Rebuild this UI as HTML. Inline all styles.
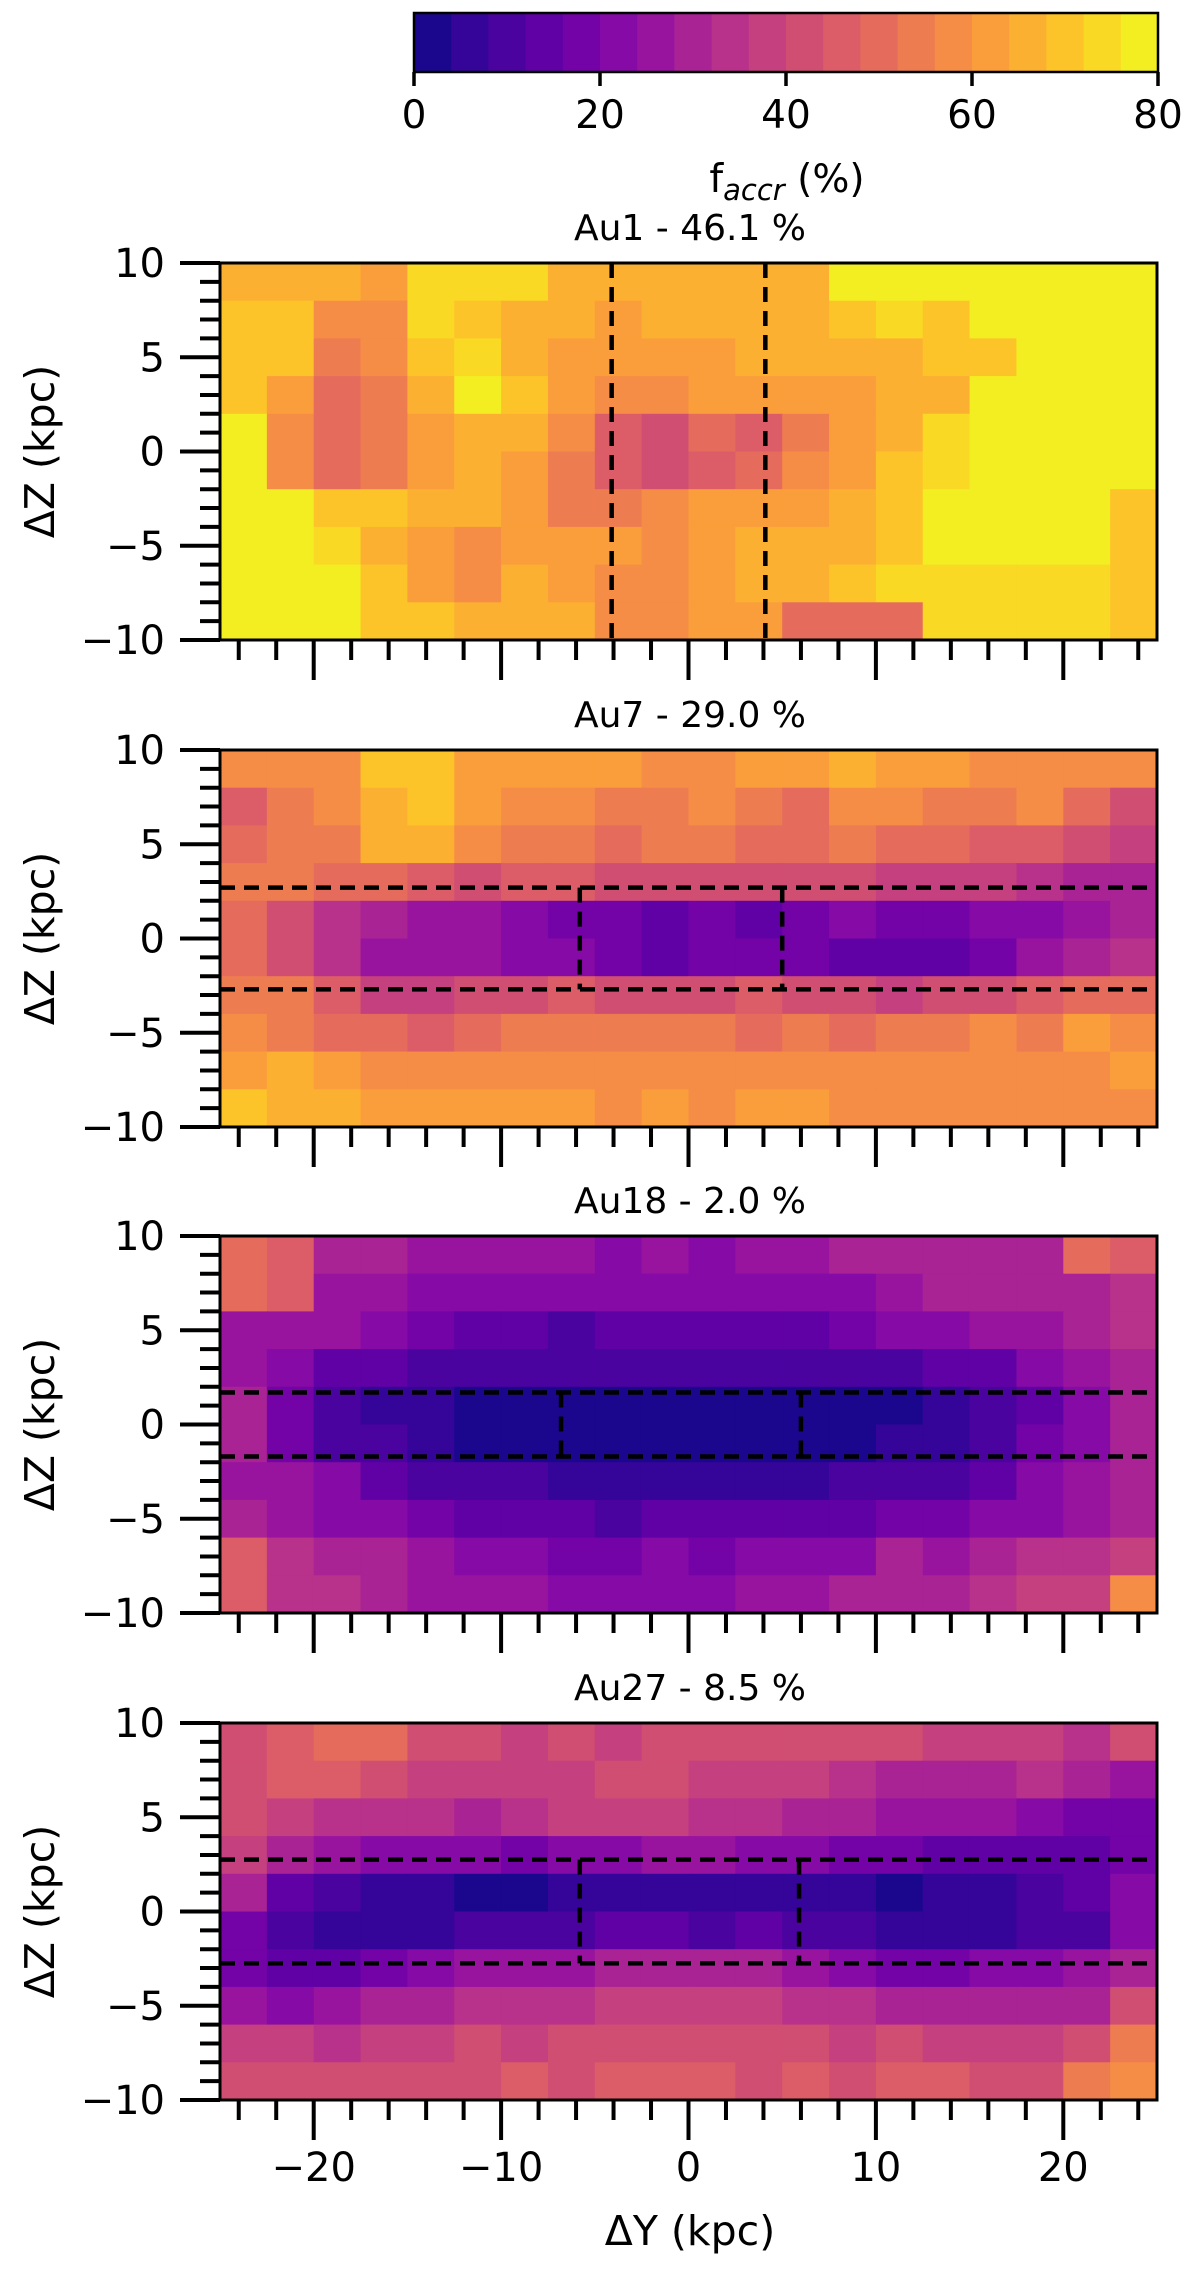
<!DOCTYPE html>
<html><head><meta charset="utf-8"><style>
html,body{margin:0;padding:0;background:#fff;width:1200px;height:2284px;overflow:hidden}
svg text{font-family:"DejaVu Sans","Liberation Sans",sans-serif;fill:#000}
</style></head><body>
<svg id="fig" width="1200" height="2284" viewBox="0 0 1200 2284" xmlns="http://www.w3.org/2000/svg"></svg>
<script>
// ---- data (accreted fraction %, 20 cols x 10 rows, cols ΔY -25..25 step 2.5, rows ΔZ 10..-10 step 2) ----
const panelNames = ["Au1", "Au7", "Au18", "Au27"];
const panelTotals = ["46.1", "29.0", "2.0", "8.5"];
const cbTicks = [0, 20, 40, 60, 80];
const yTicks = [10, 5, 0, -5, -10];
const xTicks = [-20, -10, 0, 10, 20];
const au1 = [
[66,66,64,62,72,72,72,64,64,64,64,64,66,78,78,78,78,78,78,78],
[68,68,58,56,72,70,64,64,60,64,64,66,64,70,74,70,78,78,78,78],
[68,68,54,56,70,72,66,62,60,62,62,66,64,66,66,70,70,78,78,78],
[68,62,48,54,66,76,68,62,56,56,60,62,60,62,64,66,78,78,78,78],
[78,58,48,52,60,66,64,58,44,40,50,44,52,60,66,72,78,78,78,78],
[78,58,50,54,62,64,62,54,44,42,46,48,56,62,68,74,78,78,78,78],
[78,78,70,68,64,64,60,54,54,56,60,60,62,66,70,78,78,78,78,70],
[78,78,74,64,60,56,62,60,62,58,60,64,66,66,70,78,78,78,78,70],
[78,78,78,70,62,56,64,62,58,58,62,64,66,68,72,72,74,74,72,70],
[78,78,78,70,70,66,66,64,58,58,60,62,50,50,50,72,72,72,72,70]];
const au7 = [
[58,58,58,68,68,62,62,62,60,58,58,60,62,66,62,60,58,58,58,56],
[44,52,56,66,68,62,56,56,52,52,56,52,50,56,56,52,52,56,48,42],
[50,52,54,64,64,56,52,52,50,52,52,50,50,52,50,48,44,46,42,38],
[52,54,50,48,46,42,44,46,42,40,42,42,42,40,38,38,36,32,28,28],
[50,40,32,28,26,24,22,18,16,14,16,14,18,20,16,18,22,22,24,28],
[50,42,32,26,26,26,22,20,16,14,16,16,16,14,12,14,18,24,28,32],
[54,52,44,38,38,40,42,44,42,42,42,44,42,42,38,40,42,44,48,50],
[56,54,50,48,44,50,52,54,52,52,52,50,52,50,52,54,56,52,60,58],
[60,64,62,56,58,58,56,58,56,56,58,56,58,56,56,56,56,56,58,60],
[70,66,64,62,60,62,60,60,58,60,58,60,62,58,58,58,58,56,58,58]];
const au18 = [
[50,46,28,28,26,26,24,24,22,24,22,24,26,28,30,30,30,30,48,46],
[48,46,26,26,22,22,20,20,20,20,20,20,20,22,26,28,28,30,30,32],
[26,24,24,22,18,14,12,10,12,14,14,12,12,16,20,22,24,26,30,32],
[26,22,14,12,10,10,8,8,8,8,8,8,8,10,10,12,14,20,26,30],
[28,16,10,6,4,2,2,2,2,2,2,2,2,2,2,4,8,14,20,28],
[28,18,10,8,4,2,2,2,2,2,2,2,2,2,4,6,10,16,22,28],
[26,24,20,14,10,8,8,6,6,6,6,6,6,8,8,10,14,20,26,28],
[30,26,22,20,18,14,14,12,10,12,14,12,14,14,16,18,20,22,24,28],
[46,32,30,28,24,22,20,18,18,20,18,20,22,22,28,26,28,32,34,36],
[46,32,34,30,26,24,24,20,22,22,22,24,26,28,28,30,34,36,38,56]];
const au27 = [
[42,44,48,48,42,40,38,40,38,42,40,40,42,42,40,38,38,36,34,42],
[40,44,44,40,36,38,38,38,40,40,38,36,38,34,30,30,30,32,28,24],
[40,36,32,34,32,30,32,36,36,36,34,32,30,28,26,26,24,20,18,18],
[36,28,24,20,20,20,18,20,22,24,24,22,20,16,16,14,14,12,14,18],
[30,14,10,6,4,2,2,4,6,4,4,6,4,4,2,4,6,10,14,20],
[18,10,6,6,6,8,8,10,12,12,10,12,10,8,6,6,6,8,10,22],
[16,14,12,16,20,24,26,26,28,30,30,28,26,22,18,16,20,22,24,30],
[24,20,26,28,30,34,32,34,36,38,36,36,34,34,28,28,30,30,30,40],
[36,36,32,36,38,40,38,40,40,42,40,40,40,38,40,36,36,38,40,52],
[40,42,40,40,42,42,44,42,44,46,44,42,44,42,44,44,42,42,52,56]];
const panelGrids = [au1, au7, au18, au27];
// bar region boundaries (kpc): horizontal |ΔZ| limit (null = none), vertical ΔY lines
const boxZ = [null, 2.7, 1.7, 2.75];
const boxYLeft = [-4.1, -5.8, -6.8, -5.8];
const boxYRight = [4.1, 5.0, 6.0, 5.9];

// ---- drawing ----
const NS = "http://www.w3.org/2000/svg";
const svg = document.getElementById("fig");
function mk(tag, attrs, parent) {
  const e = document.createElementNS(NS, tag);
  for (const k in attrs) e.setAttribute(k, attrs[k]);
  (parent || svg).appendChild(e);
  return e;
}
const stops = [[13,8,135],[65,4,157],[106,0,168],[143,13,164],[177,42,144],[204,71,120],[225,100,98],[242,132,75],[252,166,54],[252,206,37],[240,249,33]];
function plasma(t) {
  t = Math.max(0, Math.min(1, t)) * 10;
  const i = Math.min(9, Math.floor(t)), f = t - i;
  const a = stops[i], b = stops[i + 1];
  return "rgb(" + [0,1,2].map(k => Math.round(a[k] + (b[k] - a[k]) * f)).join(",") + ")";
}
function colorFor(v) {
  const bin = Math.max(0, Math.min(19, Math.floor(v / 4)));
  return plasma((bin + 0.5) / 20);
}
const fmt = v => (v < 0 ? "\u2212" + Math.abs(v) : String(v));

// colorbar
const cbX0 = 414, cbX1 = 1158, cbY0 = 13, cbY1 = 72;
const cbScale = v => cbX0 + (v / 80) * (cbX1 - cbX0);
const cb = mk("g", {});


for (let b = 0; b < 20; b++) {
  const r = mk("rect", {x: cbScale(b * 4), y: cbY0, width: cbScale(b * 4 + 4) - cbScale(b * 4) + 0.6, height: cbY1 - cbY0, fill: plasma((b + 0.5) / 20)}, cb);
  
  
}
mk("rect", {x: cbX0, y: cbY0, width: cbX1 - cbX0, height: cbY1 - cbY0, fill: "none", stroke: "#000", "stroke-width": 2.5}, cb);
cbTicks.forEach(v => {
  mk("line", {x1: cbScale(v), x2: cbScale(v), y1: cbY1, y2: cbY1 + 14, stroke: "#000", "stroke-width": 3.5}, cb);
  const t = mk("text", {x: cbScale(v), y: 128, "font-size": 39, "text-anchor": "middle"}, cb);
  t.textContent = fmt(v);
  
  
});
const cbl = mk("text", {x: 787, y: 192, "font-size": 39, "text-anchor": "middle"}, cb);


cbl.innerHTML = 'f<tspan font-style="italic" font-size="29" dy="8">accr</tspan><tspan dy="-8"> (%)</tspan>';

// panels
const PX0 = 220, PX1 = 1157, PH = 377;
const tops = [263, 750, 1236, 1723];
panelGrids.forEach((grid, p) => {
  const top = tops[p], bot = top + PH;
  const sx = v => PX0 + (v + 25) / 50 * (PX1 - PX0);
  const sy = v => top + (10 - v) / 20 * PH;
  const g = mk("g", {});
  
  
  const nr = grid.length, nc = grid[0].length;
  const dx = 50 / nc, dz = 20 / nr;
  grid.forEach((row, r) => row.forEach((v, c) => {
    const x0 = sx(-25 + c * dx), x1 = sx(-25 + (c + 1) * dx);
    const y0 = sy(10 - r * dz), y1 = sy(10 - (r + 1) * dz);
    const cell = mk("rect", {x: x0, y: y0, width: x1 - x0 + 0.6, height: y1 - y0 + 0.6, fill: colorFor(v)}, g);
    
    
  }));
  // dashed bar region
  const dash = {stroke: "#000", "stroke-width": 4.5, "stroke-dasharray": "15,9", fill: "none"};
  if (boxZ[p] === null) {
    [boxYLeft[p], boxYRight[p]].forEach(v => {
      const l = mk("line", Object.assign({x1: sx(v), x2: sx(v), y1: top, y2: bot}, dash), g);
      
      
    });
  } else {
    [boxZ[p], -boxZ[p]].forEach(v => {
      const l = mk("line", Object.assign({x1: PX0, x2: PX1, y1: sy(v), y2: sy(v)}, dash), g);
      
      
    });
    [boxYLeft[p], boxYRight[p]].forEach(v => {
      const l = mk("line", Object.assign({x1: sx(v), x2: sx(v), y1: sy(boxZ[p]), y2: sy(-boxZ[p])}, dash), g);
      
      
    });
  }
  mk("rect", {x: PX0, y: top, width: PX1 - PX0, height: PH, fill: "none", stroke: "#000", "stroke-width": 3}, g);
  // y ticks
  for (let v = -10; v <= 10; v++) {
    const major = v % 5 === 0;
    mk("line", {x1: PX0 - (major ? 40 : 20), x2: PX0, y1: sy(v), y2: sy(v), stroke: "#000", "stroke-width": 4}, g);
  }
  yTicks.forEach(v => {
    const t = mk("text", {x: 165, y: sy(v) + 14, "font-size": 40, "text-anchor": "end"}, g);
    t.textContent = fmt(v);
    
    
  });
  // x ticks
  for (let v = -24; v <= 24; v += 2) {
    const major = v % 10 === 0;
    mk("line", {x1: sx(v), x2: sx(v), y1: bot, y2: bot + (major ? 40 : 20), stroke: "#000", "stroke-width": 4}, g);
  }
  if (p === 3) {
    xTicks.forEach(v => {
      const t = mk("text", {x: sx(v), y: bot + 81, "font-size": 40, "text-anchor": "middle"}, g);
      t.textContent = fmt(v);
      
      
    });
  }
  const yl = mk("text", {x: 0, y: 0, "font-size": 41, "text-anchor": "middle", transform: "translate(54," + (top + PH / 2) + ") rotate(-90)"}, g);
  yl.textContent = "\u0394Z (kpc)";
  
  
  const tt = mk("text", {x: 690, y: top - 23, "font-size": 36, "text-anchor": "middle"}, g);
  tt.textContent = panelNames[p] + " - " + panelTotals[p] + " %";
  
  
});
const xl = mk("text", {x: 690, y: 2245, "font-size": 41, "text-anchor": "middle"});
xl.textContent = "\u0394Y (kpc)";


</script>
</body></html>
